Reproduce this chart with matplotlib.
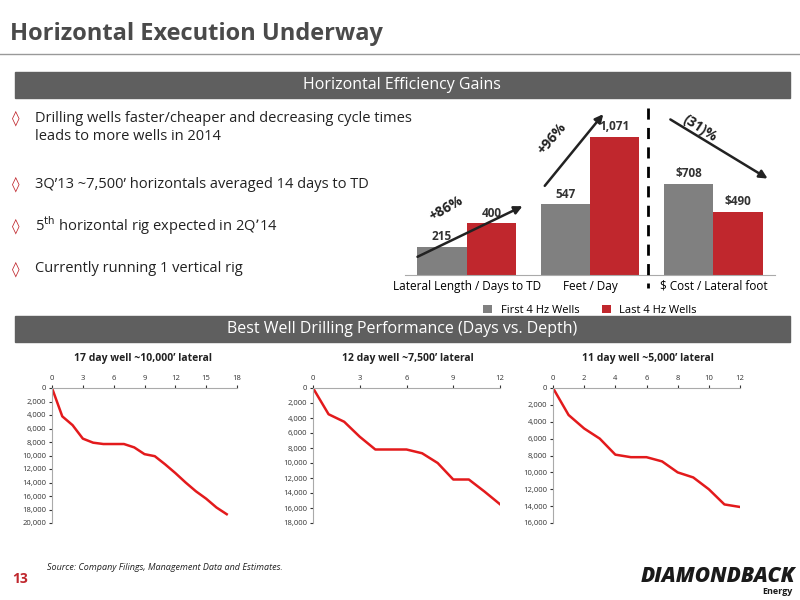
import matplotlib
matplotlib.use("Agg")
import matplotlib.pyplot as plt
from matplotlib.patches import Rectangle, FancyArrowPatch
import numpy as np

plt.rcParams['font.family'] = ['Open Sans', 'DejaVu Sans']

categories = ["Lateral Length / Days to TD", "Feet / Day", "$ Cost / Lateral foot"]
first4 = [215, 547, 708]
last4 = [400, 1071, 490]
first_labels = ["215", "547", "$708"]
last_labels = ["400", "1,071", "$490"]

well1_days = list(range(18))
well1_depth = [0, 4200, 5500, 7500, 8100, 8300, 8300, 8300, 8800, 9800, 10100, 11300, 12600, 14000, 15300, 16400, 17700, 18700]
well2_days = list(range(13))
well2_depth = [0, 3500, 4500, 6500, 8200, 8200, 8200, 8700, 10000, 12200, 12200, 13800, 15500]
well3_days = list(range(13))
well3_depth = [0, 3200, 4800, 6000, 7900, 8200, 8200, 8700, 10000, 10600, 12000, 13800, 14100]

W, H = 800, 600
fig = plt.figure(figsize=(8, 6), dpi=100)
fig.patch.set_facecolor("white")

def fx(x): return x / W
def fy(y): return 1 - y / H
def rect(x0, y0, x1, y1):
    return [fx(x0), fy(y1), fx(x1 - x0), (y1 - y0) / H]

GREY = "#808080"
RED = "#C0272D"
BAN = "#5f5f5f"

fig.text(fx(10), fy(40), "Horizontal Execution Underway", fontsize=17, fontweight="bold", color="#4a4a4a")
fig.add_artist(plt.Line2D([fx(0), fx(800)], [fy(54), fy(54)], color="#999999", lw=1))

for y0, y1, t in [(72, 98, "Horizontal Efficiency Gains"), (316, 342, "Best Well Drilling Performance (Days vs. Depth)")]:
    fig.add_artist(Rectangle((fx(15), fy(y1)), fx(775), (y1 - y0) / H, color=BAN, transform=fig.transFigure))
    fig.text(fx(402), fy((y0 + y1) / 2), t, color="white", fontsize=11.5, ha="center", va="center")

bullets = [(118, "Drilling wells faster/cheaper and decreasing cycle times"),
           (184, "3Q\u201913 ~7,500\u2019 horizontals averaged 14 days to TD"),
           (226, "5$^{\\mathrm{th}}$ horizontal rig expected in 2Q\u201914"),
           (269, "Currently running 1 vertical rig")]
for y, t in bullets:
    fig.text(fx(12), fy(y), "\u25CA", color="#C0272D", fontsize=11, va="center", family=["DejaVu Sans"])
    fig.text(fx(35), fy(y), t, color="#222222", fontsize=10.5, va="center")
fig.text(fx(35), fy(137), "leads to more wells in 2014", color="#222222", fontsize=10.5, va="center")

# Bar chart
ax = fig.add_axes(rect(405, 110, 775, 275))
x = np.arange(3)
w = 0.4
ax.bar(x - w / 2, first4, w, color=GREY, label="First 4 Hz Wells")
ax.bar(x + w / 2, last4, w, color=RED, label="Last 4 Hz Wells")
for i in range(3):
    ax.text(x[i] - w / 2, first4[i] + 30, first_labels[i], ha="center", va="bottom", fontsize=8.5, fontweight="bold", color="#333")
    ax.text(x[i] + w / 2, last4[i] + 30, last_labels[i], ha="center", va="bottom", fontsize=8.5, fontweight="bold", color="#333")
ax.set_xlim(-0.5, 2.5)
ax.set_ylim(0, 1280)
ax.set_yticks([])
ax.set_xticks(x)
ax.set_xticklabels(categories, fontsize=8.5)
ax.tick_params(axis="x", length=0)
for s in ["top", "right", "left"]:
    ax.spines[s].set_visible(False)
ax.spines["bottom"].set_color("#aaaaaa")
ax.patch.set_alpha(0)
ax.legend(loc="upper center", bbox_to_anchor=(0.5, -0.12), ncol=2, frameon=False, fontsize=8,
          handlelength=0.8, handleheight=0.8, columnspacing=2)

fig.add_artist(plt.Line2D([fx(648), fx(648)], [fy(108), fy(288)], color="black", lw=2, ls=(0, (4, 3))))
for (x0, y0, x1, y1), t, tx, ty, rot in [((415, 258, 525, 205), "+86%", 446, 208, 30),
                                         ((543, 188, 605, 112), "+96%", 552, 138, 50),
                                         ((668, 118, 770, 180), "(31)%", 700, 128, -33)]:
    fig.add_artist(FancyArrowPatch((fx(x0), fy(y0)), (fx(x1), fy(y1)), transform=fig.transFigure,
                                   arrowstyle="-|>", mutation_scale=12, color="#222222", lw=1.8))
    fig.text(fx(tx), fy(ty), t, rotation=rot, fontsize=10, fontweight="bold", ha="center", va="center", color="#222")

# Line charts
specs = [((52, 388, 237, 523), well1_days, well1_depth, 18, 3, 20000, "17 day well ~10,000\u2019 lateral", 143),
         ((313, 388, 500, 523), well2_days, well2_depth, 12, 3, 18000, "12 day well ~7,500\u2019 lateral", 408),
         ((553, 388, 740, 523), well3_days, well3_depth, 12, 2, 16000, "11 day well ~5,000\u2019 lateral", 648)]
for (x0, y0, x1, y1), d, dep, xmax, xs, ymax, title, tcx in specs:
    a = fig.add_axes(rect(x0, y0, x1, y1))
    a.plot(d, dep, color="#E31A1C", lw=1.8)
    a.set_xlim(0, xmax)
    a.set_ylim(ymax, 0)
    a.set_xticks(np.arange(0, xmax + 1, xs))
    a.set_yticks(np.arange(0, ymax + 1, 2000))
    a.yaxis.set_major_formatter(matplotlib.ticker.FuncFormatter(lambda v, p: f"{int(v):,}"))
    a.xaxis.tick_top()
    a.tick_params(labelsize=5.5, length=2, colors="#333", pad=2)
    for s in ["right", "bottom"]:
        a.spines[s].set_visible(False)
    for s in ["top", "left"]:
        a.spines[s].set_color("#aaaaaa")
    fig.text(fx(tcx), fy(358), title, ha="center", va="center", fontsize=7.5, fontweight="bold", color="#222")

fig.text(fx(47), fy(570), "Source: Company Filings, Management Data and Estimates.", fontsize=6.5, style="italic", color="#222")
fig.text(fx(12), fy(579), "13", fontsize=10, fontweight="bold", color=RED, va="center")
fig.text(fx(795), fy(576), "DIAMONDBACK", fontsize=15, fontweight="heavy", style="italic", color="#1a1a1a", ha="right", va="center")
fig.text(fx(793), fy(592), "Energy", fontsize=6.5, fontweight="bold", color="#1a1a1a", ha="right", va="center")

fig.savefig("out.png", dpi=100)
